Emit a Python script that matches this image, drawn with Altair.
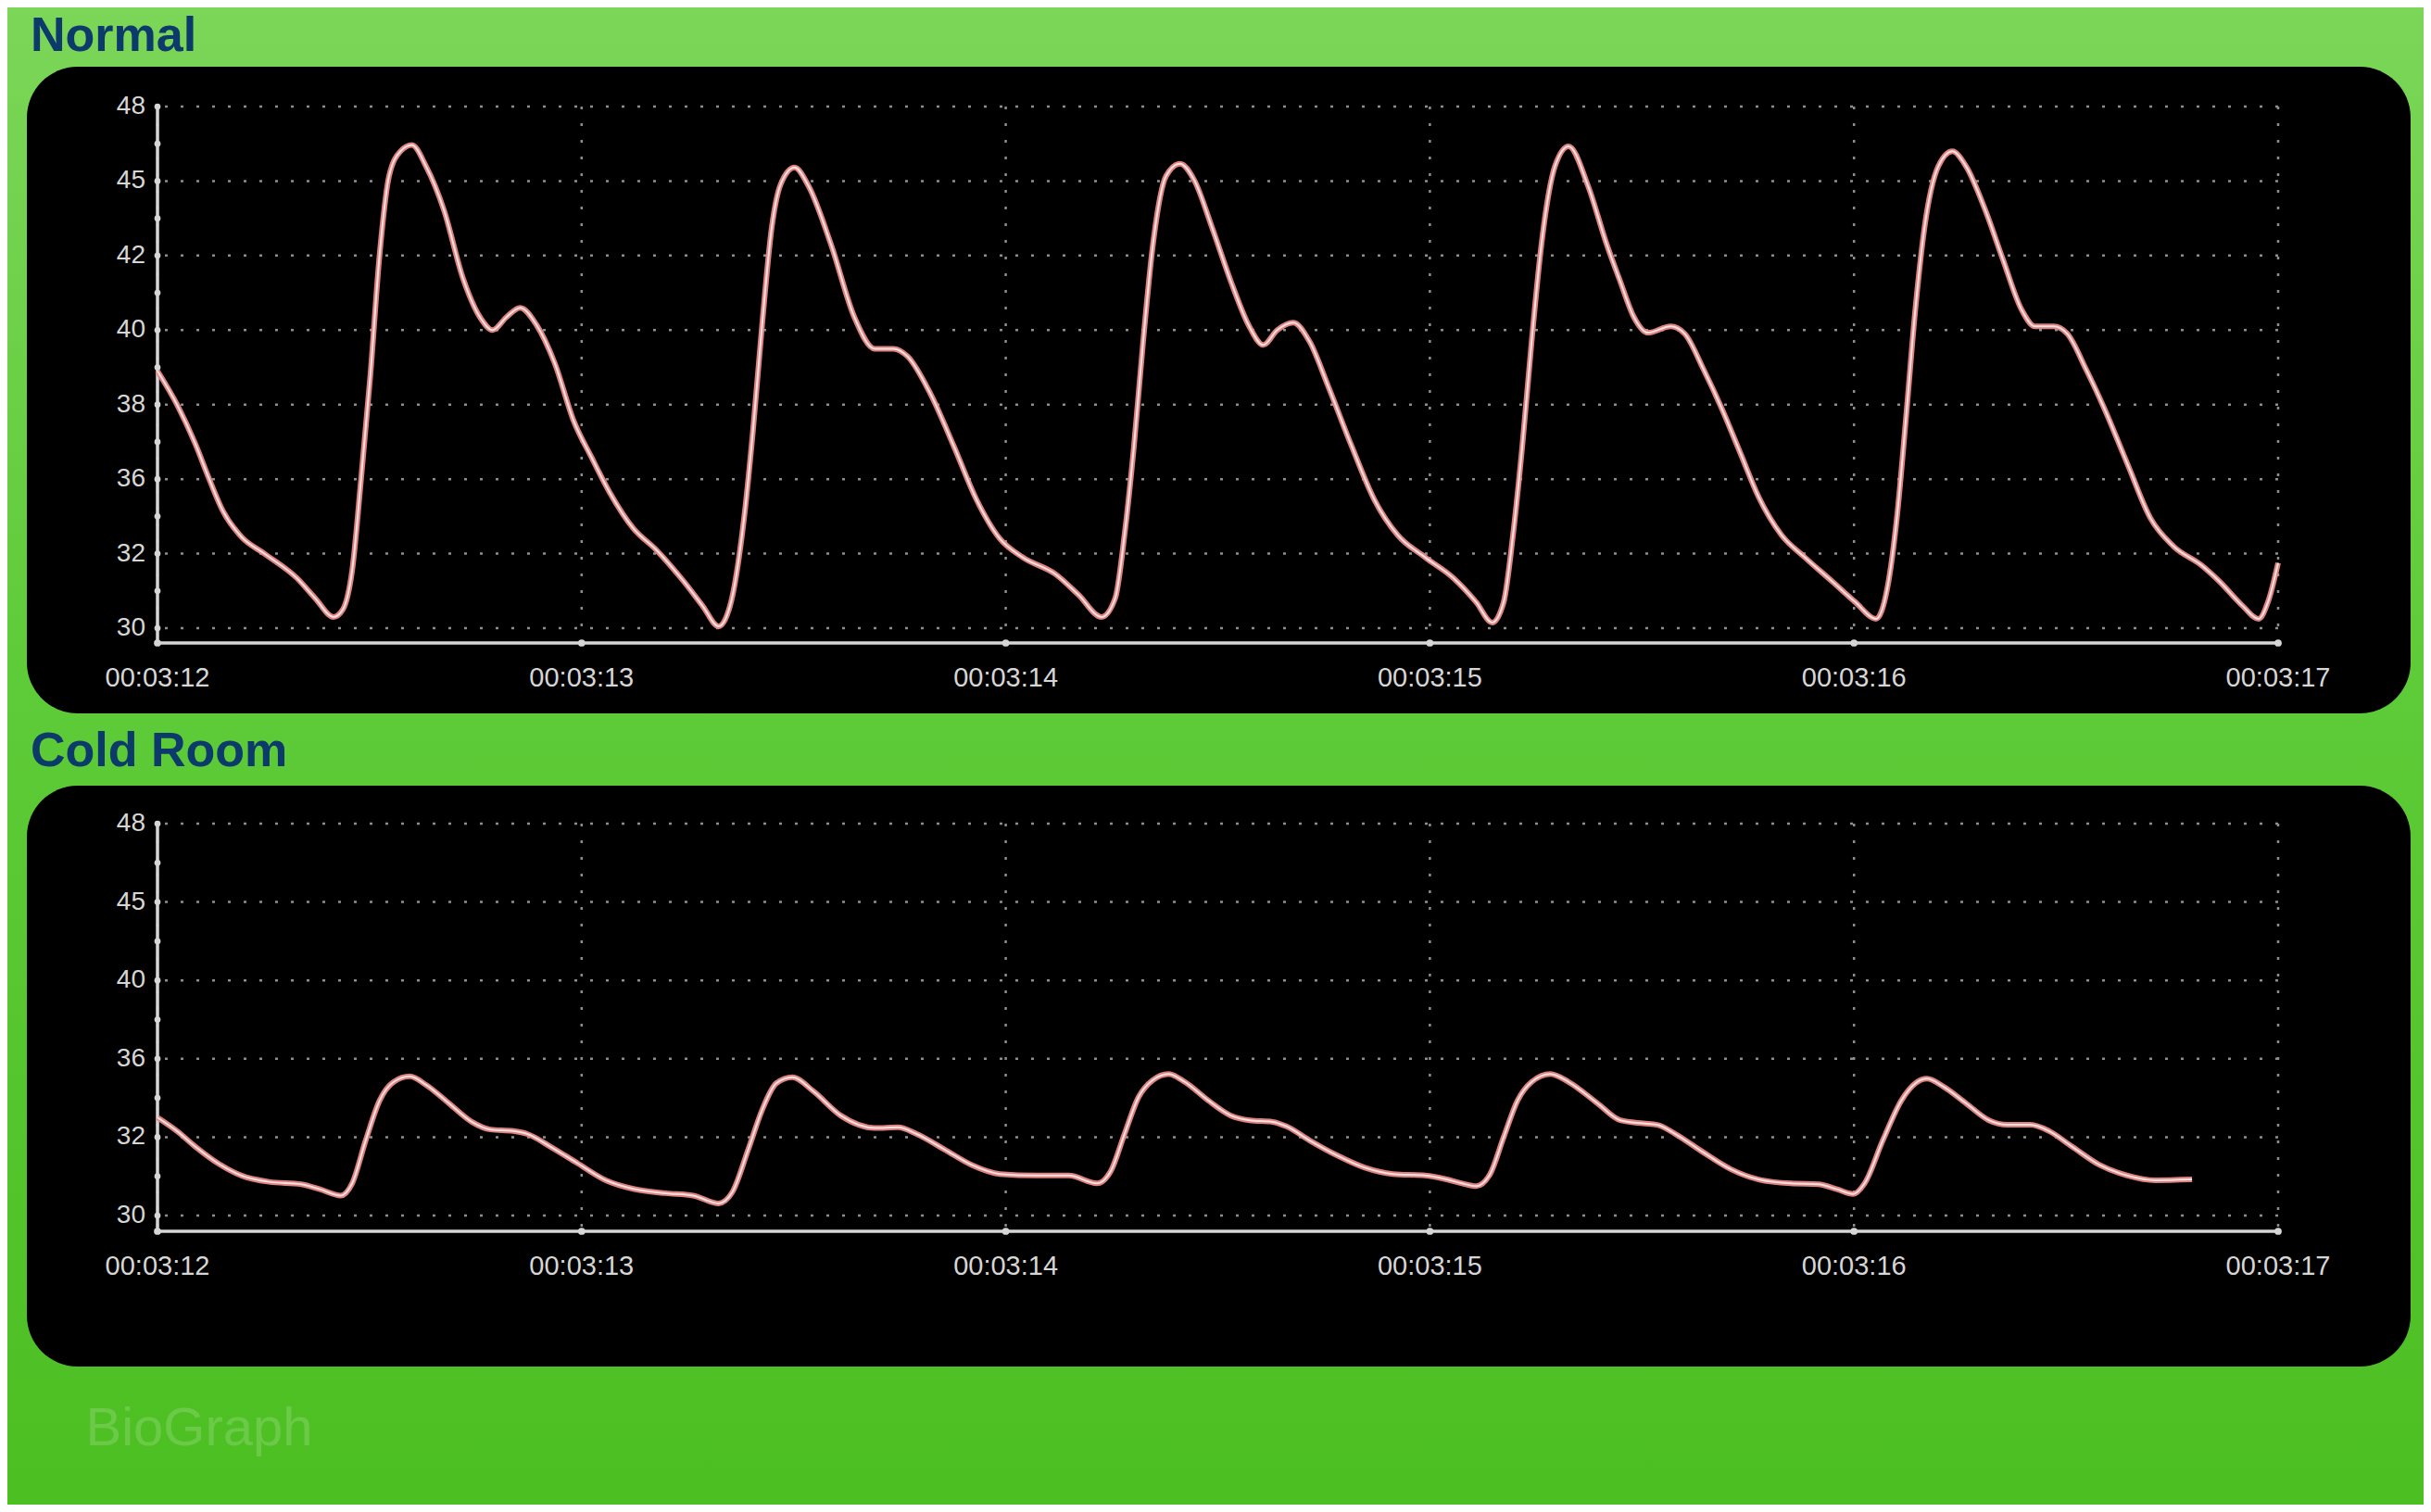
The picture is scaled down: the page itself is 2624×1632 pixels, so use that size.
import altair as alt
import pandas as pd

# ---------------- data ----------------
sec_ticks = [12, 13, 14, 15, 16, 17]
sec_labels = ["00:03:12", "00:03:13", "00:03:14", "00:03:15", "00:03:16", "00:03:17"]

t_normal = [12.000, 12.046, 12.089, 12.122, 12.154, 12.198, 12.252, 12.328, 12.372, 12.415,
            12.437, 12.459, 12.480, 12.502, 12.524, 12.546, 12.573, 12.600, 12.633, 12.676,
            12.720, 12.763, 12.790, 12.823, 12.855, 12.893, 12.937, 12.980, 13.024, 13.067,
            13.122, 13.176, 13.241, 13.285, 13.323, 13.350, 13.383, 13.404, 13.426, 13.448,
            13.470, 13.502, 13.535, 13.589, 13.643, 13.691, 13.735, 13.768, 13.822, 13.877,
            13.931, 13.986, 14.040, 14.117, 14.171, 14.226, 14.258, 14.280, 14.302, 14.324,
            14.346, 14.378, 14.411, 14.444, 14.487, 14.531, 14.575, 14.607, 14.640, 14.678,
            14.716, 14.760, 14.815, 14.869, 14.924, 14.989, 15.055, 15.109, 15.147, 15.174,
            15.196, 15.218, 15.240, 15.262, 15.295, 15.327, 15.373, 15.416, 15.449, 15.481,
            15.514, 15.568, 15.601, 15.645, 15.688, 15.732, 15.775, 15.829, 15.884, 15.949,
            16.003, 16.052, 16.079, 16.101, 16.123, 16.145, 16.166, 16.199, 16.232, 16.264,
            16.308, 16.351, 16.395, 16.427, 16.471, 16.503, 16.547, 16.590, 16.645, 16.699,
            16.753, 16.818, 16.862, 16.916, 16.954, 16.976, 17.000]
v_normal = [38.9, 38.0, 36.95, 36.0, 34.3, 32.9, 32.0, 31.35, 30.8, 30.3,
            30.5, 31.55, 36.0, 38.8, 42.1, 45.2, 46.2, 46.45, 45.6, 43.8,
            41.4, 40.3, 40.0, 40.35, 40.6, 40.15, 39.1, 37.6, 36.57, 35.25,
            33.35, 32.2, 31.25, 30.6, 30.05, 30.6, 33.9, 37.3, 40.2, 43.1,
            44.9, 45.55, 44.8, 42.4, 40.35, 39.5, 39.5, 39.3, 38.3, 36.9,
            34.9, 32.8, 31.9, 31.45, 30.9, 30.3, 30.8, 33.0, 36.85, 39.7,
            42.3, 45.2, 45.7, 45.05, 43.1, 41.3, 40.08, 39.6, 40.0, 40.2,
            39.7, 38.5, 36.9, 34.9, 33.0, 31.9, 31.35, 30.7, 30.15, 30.7,
            33.0, 36.9, 39.7, 42.3, 45.6, 46.4, 44.8, 42.5, 41.3, 40.35,
            39.93, 40.1, 39.9, 38.95, 37.9, 36.7, 35.05, 33.0, 31.9, 31.25,
            30.7, 30.25, 31.1, 33.9, 37.7, 40.6, 43.1, 45.6, 46.2, 45.6,
            43.9, 41.9, 40.55, 40.1, 40.1, 39.9, 38.95, 37.9, 36.4, 33.9,
            32.4, 31.7, 31.25, 30.6, 30.25, 30.7, 31.75]

t_cold = [12.000, 12.046, 12.089, 12.143, 12.198, 12.263, 12.339, 12.383, 12.432, 12.459,
          12.491, 12.524, 12.557, 12.595, 12.633, 12.687, 12.741, 12.785, 12.839, 12.872,
          12.926, 12.991, 13.057, 13.122, 13.198, 13.263, 13.323, 13.355, 13.393, 13.426,
          13.459, 13.497, 13.546, 13.611, 13.691, 13.746, 13.790, 13.855, 13.920, 13.986,
          14.073, 14.149, 14.215, 14.248, 14.280, 14.313, 14.346, 14.384, 14.422, 14.477,
          14.531, 14.575, 14.629, 14.662, 14.716, 14.782, 14.847, 14.913, 14.989, 15.033,
          15.076, 15.109, 15.142, 15.174, 15.207, 15.240, 15.284, 15.327, 15.395, 15.449,
          15.503, 15.536, 15.579, 15.645, 15.710, 15.775, 15.851, 15.916, 15.960, 15.998,
          16.025, 16.068, 16.112, 16.145, 16.172, 16.210, 16.264, 16.318, 16.362, 16.416,
          16.460, 16.514, 16.579, 16.645, 16.710, 16.797]
v_cold = [33.0, 32.31, 31.76, 31.33, 31.02, 30.86, 30.8, 30.67, 30.51, 30.82,
          31.92, 33.88, 34.82, 35.1, 34.67, 33.73, 32.78, 32.39, 32.31, 32.16,
          31.76, 31.33, 30.9, 30.68, 30.57, 30.51, 30.31, 30.59, 31.69, 33.41,
          34.75, 35.06, 34.35, 33.1, 32.47, 32.5, 32.16, 31.69, 31.29, 31.06,
          31.02, 31.02, 30.82, 31.14, 32.16, 34.04, 34.9, 35.22, 34.82, 33.88,
          33.1, 32.86, 32.78, 32.55, 31.92, 31.53, 31.22, 31.06, 31.02, 30.94,
          30.82, 30.75, 31.06, 32.0, 33.88, 34.82, 35.22, 34.82, 33.73, 32.86,
          32.7, 32.63, 32.16, 31.61, 31.18, 30.92, 30.82, 30.8, 30.67, 30.55,
          30.82, 31.92, 33.88, 34.75, 34.98, 34.59, 33.73, 32.86, 32.63, 32.63,
          32.31, 31.76, 31.29, 31.02, 30.9, 30.92]

y_major_top = [30, 32, 36, 38, 40, 42, 45, 48]
y_minor_top = [31, 34, 37, 39, 41, 43.5, 46.5]
y_major_bot = [30, 32, 36, 40, 45, 48]
y_minor_bot = [31, 34, 38, 42.5, 46.5]

# ---------------- layout / style ----------------
W = 2289
H_TOP = 579
H_BOT = 440
AX = "#d6d6d6"
GRID = "#8e8e8e"
NARROW = "'Liberation Sans Narrow', 'Arial Narrow', 'Liberation Sans', Arial, sans-serif"


def piecewise(majors, height, bottom_gap):
    """Evenly spaced label positions (piecewise linear scale, like the device)."""
    n = len(majors) - 1
    usable = height - bottom_gap
    step = usable / n
    below = majors[0] - bottom_gap / step * (majors[1] - majors[0])
    dom = [round(below, 3)] + list(majors)
    rng = [height] + [round(usable - i * step, 2) for i in range(n + 1)]
    return dom, rng


def panel(t, v, majors, minors, H, bottom_gap, title, title_y, box_y, box_y2,
          xlab_y, with_bg=False, watermark=False):
    dom, rng = piecewise(majors, H, bottom_gap)
    ysc = alt.Scale(domain=dom, range=rng, nice=False, zero=False)
    xsc = alt.Scale(domain=[12, 17], nice=False, zero=False)
    one = pd.DataFrame({"a": [0]})
    layers = []
    if with_bg:
        bg = alt.Chart(one).mark_rect(
            fill=alt.LinearGradient(
                gradient="linear",
                stops=[alt.GradientStop(color="#7cd658", offset=0),
                       alt.GradientStop(color="#5ecb38", offset=0.45),
                       alt.GradientStop(color="#4cbf22", offset=1)],
                x1=0, x2=0, y1=0, y2=1)
        ).encode(x=alt.value(-162), x2=alt.value(2446), y=alt.value(-107), y2=alt.value(1509))
        layers.append(bg)
    box = alt.Chart(one).mark_rect(color="black", cornerRadius=55).encode(
        x=alt.value(-141), x2=alt.value(2432), y=alt.value(box_y), y2=alt.value(box_y2))
    layers.append(box)
    ttl = alt.Chart(pd.DataFrame({"label": [title]})).mark_text(
        align="left", baseline="alphabetic", font="Liberation Sans", fontWeight="bold",
        fontSize=52, color="#0b3a6b"
    ).encode(x=alt.value(-137), y=alt.value(title_y), text="label:N")
    layers.append(ttl)
    if watermark:
        wm = alt.Chart(pd.DataFrame({"label": ["BioGraph"]})).mark_text(
            align="center", baseline="alphabetic", font="Liberation Sans", fontSize=58,
            color="#ffffff", opacity=0.16
        ).encode(x=alt.value(45), y=alt.value(671), text="label:N")
        layers.append(wm)

    # dotted grid
    hgrid = alt.Chart(pd.DataFrame({"g": majors})).mark_rule(
        color=GRID, strokeDash=[3, 14], strokeWidth=2.5
    ).encode(y=alt.Y("g:Q", scale=ysc, axis=None))
    vgrid = alt.Chart(pd.DataFrame({"s": sec_ticks})).mark_rule(
        color=GRID, strokeDash=[3, 15], strokeWidth=2.5
    ).encode(x=alt.X("s:Q", scale=xsc, axis=None))
    layers += [hgrid, vgrid]

    # axes drawn as marks through the same scales (kept above the black panel)
    ydom = alt.Chart(pd.DataFrame({"a": [dom[0]], "b": [dom[-1]]})).mark_rule(
        color=AX, strokeWidth=3.5
    ).encode(x=alt.value(0), y=alt.Y("a:Q", scale=ysc, axis=None), y2="b:Q")
    xdom = alt.Chart(pd.DataFrame({"c": [12], "d": [17]})).mark_rule(
        color=AX, strokeWidth=3.5
    ).encode(y=alt.value(H), x=alt.X("c:Q", scale=xsc, axis=None), x2="d:Q")
    yt = alt.Chart(pd.DataFrame({"v": majors + minors})).mark_point(
        shape="circle", filled=True, size=45, color=AX, opacity=1
    ).encode(x=alt.value(0), y=alt.Y("v:Q", scale=ysc, axis=None))
    xt = alt.Chart(pd.DataFrame({"s": sec_ticks})).mark_point(
        shape="circle", filled=True, size=60, color=AX, opacity=1
    ).encode(y=alt.value(H), x=alt.X("s:Q", scale=xsc, axis=None))
    ylab = alt.Chart(pd.DataFrame({"v": majors, "lab": [str(m) for m in majors]})).mark_text(
        align="right", baseline="middle", font=NARROW, fontSize=28, color=AX
    ).encode(x=alt.value(-13), y=alt.Y("v:Q", scale=ysc, axis=None), text="lab:N")
    xlab = alt.Chart(pd.DataFrame({"s": sec_ticks, "lab": sec_labels})).mark_text(
        align="center", baseline="middle", font=NARROW, fontSize=29, color=AX
    ).encode(x=alt.X("s:Q", scale=xsc, axis=None), y=alt.value(xlab_y), text="lab:N")
    layers += [ydom, xdom, yt, xt, ylab, xlab]

    df = pd.DataFrame({"t": t, "v": v})
    base = alt.Chart(df).encode(
        x=alt.X("t:Q", scale=xsc, axis=None),
        y=alt.Y("v:Q", scale=ysc, axis=None),
    )
    glow = base.mark_line(color="#e88a8a", strokeWidth=6.0, interpolate="monotone", opacity=0.95)
    core = base.mark_line(color="#ffe2de", strokeWidth=2.0, interpolate="monotone")
    layers += [glow, core]
    return alt.layer(*layers).properties(width=W, height=H)


top = panel(t_normal, v_normal, y_major_top, y_minor_top, H_TOP, 16, "Normal", -60,
            -43, 655, H_TOP + 38, with_bg=True)
bot = panel(t_cold, v_cold, y_major_bot, y_minor_bot, H_BOT, 17, "Cold Room", -62,
            -41, 586, H_BOT + 38, watermark=True)

chart = alt.vconcat(top, bot, spacing=195, bounds="flush").configure(
    background="#5cc936", padding=0
).configure_view(stroke=None)

chart.save("out.html", embed_options={"renderer": "svg", "actions": False})
